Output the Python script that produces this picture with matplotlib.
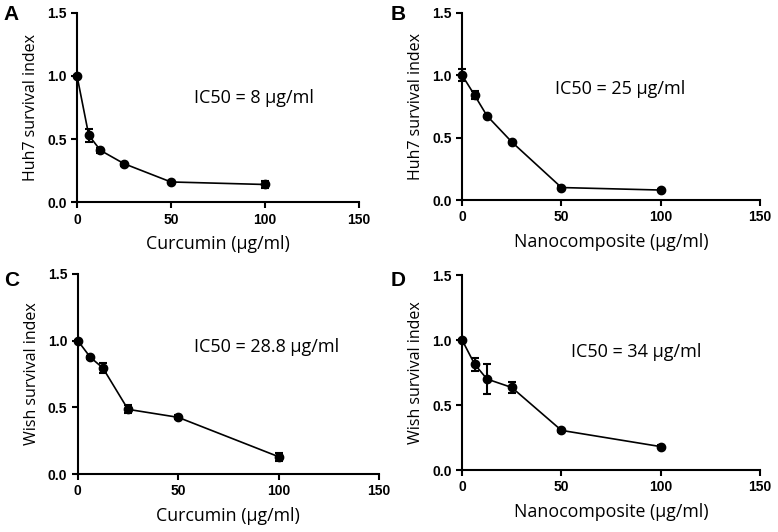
import matplotlib
matplotlib.use("Agg")
import matplotlib.pyplot as plt

plt.rcParams['font.family'] = ['Open Sans', 'DejaVu Sans']

# concentrations (ug/ml)
conc = [0, 6.25, 12.5, 25, 50, 100]

# A: Huh7 + curcumin
huh7_cur = [1.0, 0.53, 0.41, 0.305, 0.16, 0.14]
huh7_cur_err = [0.005, 0.05, 0.02, 0.015, 0.01, 0.025]
# B: Huh7 + nanocomposite
huh7_nano = [1.0, 0.84, 0.675, 0.465, 0.10, 0.08]
huh7_nano_err = [0.05, 0.03, 0.01, 0.01, 0.01, 0.01]
# C: Wish + curcumin
wish_cur = [1.0, 0.875, 0.795, 0.485, 0.425, 0.13]
wish_cur_err = [0.005, 0.01, 0.04, 0.03, 0.015, 0.03]
# D: Wish + nanocomposite
wish_nano = [1.0, 0.815, 0.70, 0.635, 0.305, 0.18]
wish_nano_err = [0.005, 0.05, 0.115, 0.045, 0.01, 0.01]

panels = [
    ('A', huh7_cur, huh7_cur_err, 'Huh7 survival index', 'Curcumin (µg/ml)', 'IC50 = 8 µg/ml',
     [0.099, 0.620, 0.362, 0.356], (0.005, 0.99), (0.249, 0.815)),
    ('B', huh7_nano, huh7_nano_err, 'Huh7 survival index', 'Nanocomposite (µg/ml)', 'IC50 = 25 µg/ml',
     [0.594, 0.624, 0.383, 0.352], (0.502, 0.99), (0.714, 0.833)),
    ('C', wish_cur, wish_cur_err, 'Wish survival index', 'Curcumin (µg/ml)', 'IC50 = 28.8 µg/ml',
     [0.100, 0.109, 0.387, 0.376], (0.005, 0.49), (0.249, 0.348)),
    ('D', wish_nano, wish_nano_err, 'Wish survival index', 'Nanocomposite (µg/ml)', 'IC50 = 34 µg/ml',
     [0.594, 0.1165, 0.383, 0.3665], (0.502, 0.49), (0.734, 0.338)),
]

fig = plt.figure(figsize=(7.78, 5.32), dpi=100)

for letter, y, err, ylab, xlab, ic50, pos, lpos, tpos in panels:
    ax = fig.add_axes(pos)
    ax.errorbar(conc, y, yerr=err, color='black', marker='o', markersize=6,
                linewidth=1.2, elinewidth=1.5, capsize=3, capthick=1.5, clip_on=False)
    ax.set_xlim(0, 150)
    ax.set_ylim(0, 1.5)
    ax.set_xticks([0, 50, 100, 150])
    ax.set_yticks([0.0, 0.5, 1.0, 1.5])
    ax.set_yticklabels(['0.0', '0.5', '1.0', '1.5'])
    for s in ['top', 'right']:
        ax.spines[s].set_visible(False)
    for s in ['left', 'bottom']:
        ax.spines[s].set_linewidth(1.5)
    ax.tick_params(width=1.5, length=4, labelsize=10)
    for lab in ax.get_xticklabels() + ax.get_yticklabels():
        lab.set_fontweight('bold')
        lab.set_family(['Liberation Sans', 'DejaVu Sans'])
    ax.set_xlabel(xlab, fontsize=12.8, labelpad=6)
    ax.set_ylabel(ylab, fontsize=11.5, labelpad=6)
    fig.text(lpos[0], lpos[1], letter, fontsize=15, fontweight='bold',
             family=['Liberation Sans', 'DejaVu Sans'], va='top', ha='left')
    fig.text(tpos[0], tpos[1], ic50, fontsize=13, va='center', ha='left')

fig.savefig('out.png', dpi=100)
